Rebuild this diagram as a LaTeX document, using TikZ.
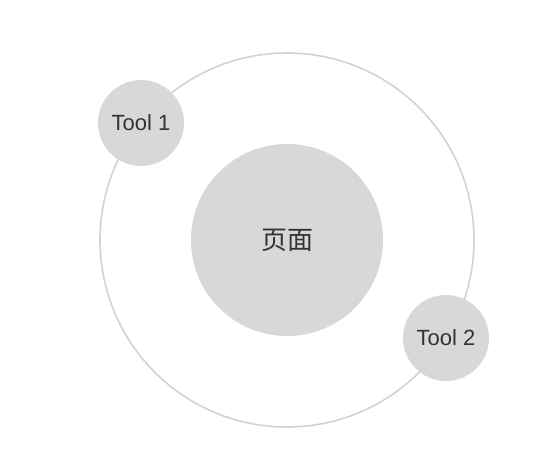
\documentclass[tikz,border=0pt]{standalone}
\usepackage{fontspec}
\setmainfont{Liberation Sans}
\newfontfamily\cjk{Noto Sans CJK SC}[FontFace={l}{n}{Noto Sans CJK SC Light}]
\definecolor{fillgray}{HTML}{D8D8D8}
\definecolor{linegray}{HTML}{D2D2D2}
\begin{document}
\begin{tikzpicture}[x=1pt,y=-1pt,
  bubble/.style={circle,fill=fillgray,draw=none,inner sep=0pt,text=black!80}]
\useasboundingbox (0,0) rectangle (552,464);
\node[circle,draw=linegray,line width=1.6pt,minimum size=374pt,inner sep=0pt] (orbit) at (287,240) {};
\node[bubble,minimum size=192pt,font=\cjk\fontsize{26}{30}\selectfont] (page) at (287,240) {页面};
\node[bubble,minimum size=86pt,font=\fontsize{22}{26}\selectfont] (t1) at (141,123) {Tool 1};
\node[bubble,minimum size=86pt,font=\fontsize{22}{26}\selectfont] (t2) at (446,338) {Tool 2};
\end{tikzpicture}
\end{document}
